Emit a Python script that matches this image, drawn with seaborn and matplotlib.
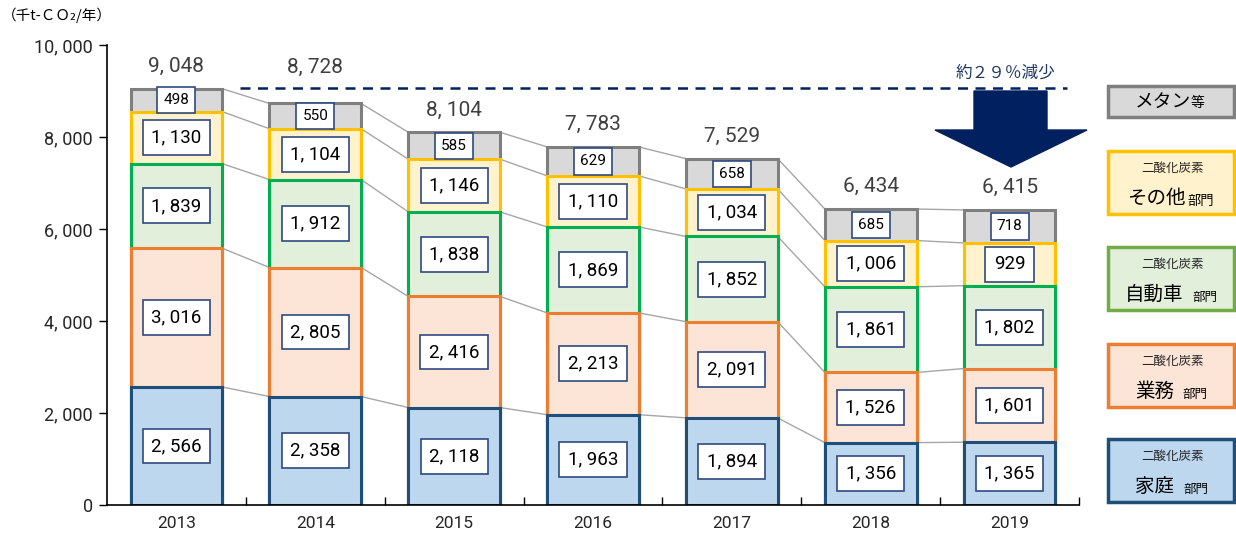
import matplotlib
matplotlib.use("Agg")
import numpy as np
import pandas as pd
import seaborn as sns
import matplotlib.pyplot as plt
from matplotlib.patches import Rectangle, Polygon
from matplotlib import font_manager

# ---------------- data ----------------
years = ["2013", "2014", "2015", "2016", "2017", "2018", "2019"]
household = [2566, 2358, 2118, 1963, 1894, 1356, 1365]
business = [3016, 2805, 2416, 2213, 2091, 1526, 1601]
vehicle = [1839, 1912, 1838, 1869, 1852, 1861, 1802]
other = [1130, 1104, 1146, 1110, 1034, 1006, 929]
methane = [498, 550, 585, 629, 658, 685, 718]
totals = [9048, 8728, 8104, 7783, 7529, 6434, 6415]
y_ticks = [0, 2000, 4000, 6000, 8000, 10000]
unit_label = "（千t-ＣＯ₂/年）"
reduction_label = "約２９％減少"
co2_label = "二酸化炭素"
sector_label = "部門"

series = [household, business, vehicle, other, methane]
fills = ["#BDD7EE", "#FCE4D6", "#E2EFDA", "#FFF2CC", "#D9D9D9"]
edges = ["#1F4E79", "#ED7D31", "#00B050", "#FFC000", "#7F7F7F"]
legend_edges = ["#1F4E79", "#ED7D31", "#70AD47", "#FFC000", "#7F7F7F"]

W, H = 1236, 537
sns.set_theme(style="white")
names = {f.name for f in font_manager.fontManager.ttflist}
JP = "Noto Sans CJK JP"
NUM = ["Liberation Sans Narrow", JP, "DejaVu Sans"] if "Liberation Sans Narrow" in names else ["Roboto", JP, "DejaVu Sans"]
plt.rcParams["font.family"] = [JP, "DejaVu Sans"]

fig = plt.figure(figsize=(W / 100, H / 100), dpi=100)
ax = fig.add_axes([107 / W, 1 - 505 / H, (1079 - 107) / W, (505 - 45) / H])

def fmt(v):
    return f"{v:,}".replace(",", ", ")

def px(x, y):
    return (x / W, 1 - y / H)

cum = np.cumsum(np.array(series), axis=0)
bw = 0.66
df = pd.DataFrame({"year": years})
for k in reversed(range(len(series))):
    df["v"] = cum[k]
    sns.barplot(data=df, x="year", y="v", color=fills[k], edgecolor=edges[k],
                linewidth=2.2, width=bw, saturation=1, ax=ax, zorder=2)

# connector lines
n = len(years)
for k in range(len(series)):
    for i in range(n - 1):
        ax.plot([i + bw / 2, i + 1 - bw / 2], [cum[k][i], cum[k][i + 1]],
                color="#A6A6A6", lw=1, zorder=1)

# value labels
for k in range(len(series)):
    for i in range(n):
        base = cum[k][i] - series[k][i]
        yc = base + series[k][i] / 2
        small = (k == len(series) - 1)
        ax.text(i, yc, fmt(series[k][i]), ha="center", va="center",
                family=NUM, fontsize=11 if small else 13.5, color="black", zorder=5,
                bbox=dict(boxstyle="square,pad=0.4" if small else "square,pad=0.45",
                          fc="white", ec="#2F4A7F", lw=1.2))

# dashed reference line level (data units)
line_level = 9065

# totals (lifted above the dashed line where they would collide)
for i in range(n):
    off = 16
    if totals[i] < line_level and totals[i] + 700 > line_level - 100 and 0.4 < i < n - 0.6:
        off = 26
    ax.annotate(fmt(totals[i]), (i, totals[i]), xytext=(0, off), textcoords="offset points",
                ha="center", va="center", family=NUM, fontsize=15, color="#404040")

ax.set_xlim(-0.5, n - 0.5)
ax.set_ylim(0, 10000)
ax.set_yticks(y_ticks)
ax.set_yticklabels([fmt(v) for v in y_ticks], family=NUM, fontsize=13)
ax.set_xticks(range(n))
ax.set_xticklabels(years, family=NUM, fontsize=12.5)
ax.set_xticks(np.arange(0.5, n, 1.0), minor=True)
ax.tick_params(axis="x", which="major", length=0, pad=8)
ax.tick_params(axis="x", which="minor", direction="in", length=6, width=1, color="black", bottom=True)
ax.tick_params(axis="y", direction="out", length=6, width=1, color="black", left=True, pad=4)
ax.set_xlabel("")
ax.set_ylabel("")
for s in ["top", "right"]:
    ax.spines[s].set_visible(False)
for s in ["left", "bottom"]:
    ax.spines[s].set_color("black")
    ax.spines[s].set_linewidth(1.2)

# reduction annotation
navy = "#002060"
ax.plot([(240 - 107) / 139 - 0.5, (1068 - 107) / 139 - 0.5], [line_level, line_level],
        ls=(0, (4, 3)), color=navy, lw=1.8, zorder=3)
fig.text(*px(1006, 73), reduction_label, ha="center", va="center", fontsize=12, color="#1F3864")
arrow = [px(974, 91), px(1047, 91), px(1047, 130), px(1087, 130), px(1011, 167),
         px(935, 130), px(974, 130)]
fig.add_artist(Polygon(arrow, closed=True, transform=fig.transFigure, fc=navy, ec=navy))

# unit label
fig.text(*px(2, 15), unit_label, ha="left", va="center", fontsize=10.5, color="black")

# legend boxes
def box(y0, y1, k):
    x0, x1 = 1108, 1234
    fig.add_artist(Rectangle(px(x0, y1), (x1 - x0) / W, (y1 - y0) / H, transform=fig.transFigure,
                             fc=fills[k], ec=legend_edges[k], lw=2.5))

box(86, 117, 4)
fig.text(*px(1191, 101), "メタン", ha="right", va="center", fontsize=13.5, color="black")
fig.text(*px(1191, 103), "等", ha="left", va="center", fontsize=10, color="black")

legend_items = [(151, 214, 3, "その他", 1186, 1187, 9.5),
                (247, 310, 2, "自動車", 1183, 1192, 9),
                (344, 407, 1, "業務", 1174, 1182, 9),
                (439, 502, 0, "家庭", 1174, 1183, 9)]
for y0, y1, k, name, xr, xs, sfs in legend_items:
    box(y0, y1, k)
    fig.text(*px(1172, y0 + 17), co2_label, ha="center", va="center", fontsize=9, color="#262626")
    fig.text(*px(xr, y0 + 47), name, ha="right", va="center", fontsize=14, color="black")
    fig.text(*px(xs, y0 + 50), sector_label, ha="left", va="center", fontsize=sfs, color="black")

fig.savefig("out.png", dpi=100)
